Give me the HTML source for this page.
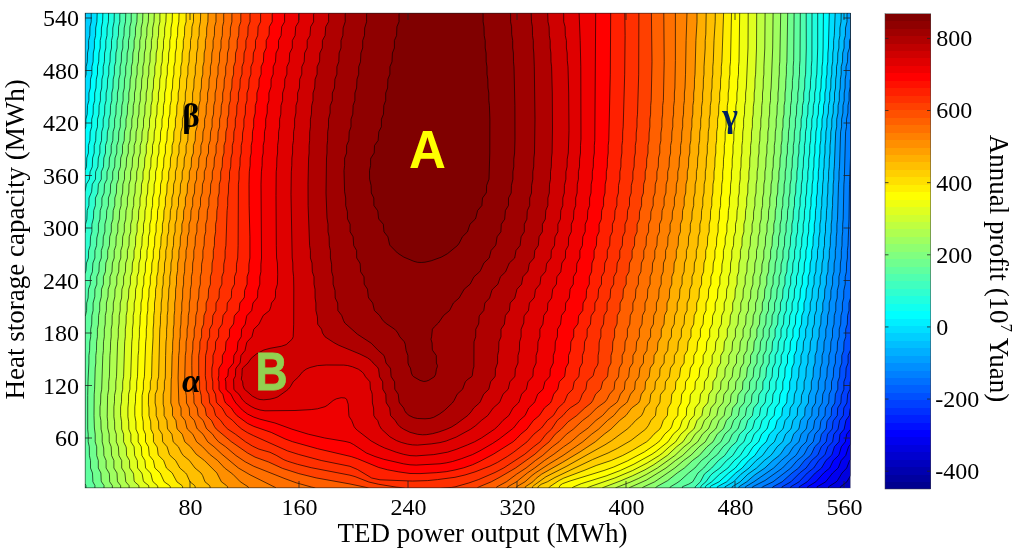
<!DOCTYPE html>
<html><head><meta charset="utf-8"><title>Annual profit contour</title>
<style>
html,body{margin:0;padding:0;background:#fff;}
body{width:1024px;height:555px;overflow:hidden;}
svg{display:block;}
text{font-family:"Liberation Serif","Times New Roman",serif;fill:#000;}
.t{font-size:24px;}
.lab{font-size:27px;}
.gk{font-weight:bold;}
.sans{font-family:"Liberation Sans",Arial,sans-serif;font-weight:bold;font-size:53.5px;}
</style></head><body>
<svg width="1024" height="555" viewBox="0 0 1024 555">
<rect width="1024" height="555" fill="#fff"/>
<defs><clipPath id="pc"><rect x="85.0" y="13.0" width="765.5" height="475.0"/></clipPath>
<clipPath id="ac"><rect x="170" y="360" width="29.3" height="50"/></clipPath></defs>
<g clip-path="url(#pc)">
<rect x="85" y="13" width="765.5" height="475" fill="#0000bf"/>
<g stroke="#000" stroke-width="0.8" stroke-opacity="0.8" stroke-linejoin="round" fill-rule="evenodd">
<path fill="#0000df" d="M86.2,13l764.3 0 0 462.6-3.6 6.2-6.5 5 0 1.2-755.4 0 0-475z"/>
<path fill="#0000ef" d="M86.2,13l764.3 0 0 446.7-.9 .8-2.9 7.5-4.7 5-4.5 7.5-1.3 1.4-7.7 4.9 0 1.2-743.5 0 0-475z"/>
<path fill="#0000ff" d="M86.2,13l764.3 0 0 431.3-2 2.5-2.8 8.7-4.5 5-3 7.5-5.6 5-6.9 8.8-8.6 5 0 1.2-732.1 0 0-475z"/>
<path fill="#0010ff" d="M86.2,13l764.3 0 0 416.3-3.9 5-1.3 7.5-4 5-2.1 7.4-.7 1.3-5.2 5-3.6 7.5-6 5-7.9 8.8-8.2 5 0 1.2-722.6 0 0-475z"/>
<path fill="#0030ff" d="M86.2,13l764.3 0 0 394.9-.5 1.4-.7 6.2-3.4 5-1.8 8.7-4.1 5-1 7.6-4.6 5-2.3 7.4-.8 1.3-5.4 5-4.4 7.5-6.2 5-8.2 8.8-7.9 5 0 1.2-714.2 0 0-475z"/>
<path fill="#0040ff" d="M86.2,13l764.3 0 0 368.4-.4 .4-.1 7.4-2.3 5-.8 8.8-3.1 5-.5 7.5-3.7 5-1.6 8.7-4.2 5.1-1.2 7.5-4.8 5-2.7 7.5-.9 1.2-5.5 5-5 7.5-6.4 5-8.2 8.8-8.4 5 0 1.2-705.7 0 0-475z"/>
<path fill="#0050ff" d="M86.2,13l764.3 0 0 337-2.4 5.5 0 7.5-2 5-.4 8.8-1.8 5 0 7.5-2.6 6.2-.4 7.5-3.2 5-.4 7.5-3.8 5-.5 1.3-.6 6.2-.4 1.2-4.4 5-1.4 7.6-4.9 5-3.1 7.4-.9 1.3-5.7 5-5.5 7.5-6.4 5-8.8 8.8-8.8 5-.3 1.2-.6 0-696.2 0 0-475z"/>
<path fill="#0070ff" d="M86.2,13l764.3 0 0 285.1-1.5 4.9 0 7.5-1.4 5-.3 8.7-1.6 5 0 7.6-1.7 5-.3 8.7-1.9 5 0 7.5-1.9 5-.3 8.8-1.8 5 0 7.4-2.4 5-.6 8.8-3.2 5-.4 7.5-3.8 5-.5 1.3-.6 6.2-.5 1.2-4.4 5.1-1.6 7.5-5.1 5-2.8 6.2-1.6 2.5-5.8 5-5.9 7.5-6.6 5-9.8 8.8-9.3 5-.7 1.2-687.2 0 0-475z"/>
<path fill="#0080ff" d="M86.2,13l764.3 0 0 143.7-1 27.5-.5 35-1 26.3-.6 5 0 7.5-.8 5-.2 8.8-1.2 5 0 7.4-1.4 6.3-.1 7.5-1.3 5 0 7.5-1.4 5-.3 8.7-1.5 5 0 7.6-1.7 5-.3 8.7-1.8 5 0 7.5-1.7 5-.4 8.8-1.8 5 0 7.4-2.3 5-.5 8.8-3.3 5-.4 7.5-3.8 5-.5 1.3-.7 6.2-.5 1.2-4.5 5-1.8 7.6-5.1 5-3.2 6.2-1.7 2.5-6 5-6.4 7.5-17.8 13.8-10.5 5-1 1.2-676.5 0 0-475z"/>
<path fill="#008fff" d="M86.2,13l764.3 0 0 65.8-.4 1.7 0 6.3-1 6.2 0 7.5-1.1 5-.1 7.5-1.4 6.2 0 7.5-.9 5.1-1.3 47.4-.4 5-.7 35-.5 5 0 7.6-.6 5-.1 8.7-.7 5 0 7.5-.9 5-.2 8.8-1.3 5 0 7.4-1.6 6.3-.1 7.5-1.4 5 0 7.5-1.5 5-.3 8.7-1.5 5 0 7.6-1.6 5-.3 8.7-1.7 5 0 7.5-1.7 5-.3 8.8-1.8 4.9 0 7.5-2.3 5-.6 8.8-3.3 5-.3 7.5-3.9 5-1.2 7.5-.6 1.2-4.6 5-2 7.6-5.3 5-3.5 6.2-1.8 2.5-6.1 5-7.1 7.5-17.5 12.5-12.4 6.3-.3 1.2-667.3 0 0-475z"/>
<path fill="#009fff" d="M86.2,13l764.3 0 0 25.1-1 2.4 0 7.5-1.7 5-.3 8.8-1.5 5 0 7.4-.8 5-.1 8.8-.9 5 0 7.5-1.2 5-.1 7.5-1.3 6.2 0 7.6-1 5-1.1 35-.5 5 0 7.4-.5 5-1 35-.6 5 0 7.6-.6 5-.2 8.7-.8 5 0 7.5-1.1 5-.2 8.8-1.4 5 0 7.4-1.7 6.3-.1 7.5-1.6 5 0 7.5-1.5 5-.3 8.7-1.6 5 0 7.6-1.7 5-.3 8.7-1.7 5 0 7.5-1.7 5-.3 8.8-1.8 5 0 7.4-2.5 6.3-.3 7.5-3.3 5-.4 7.5-4 5-1.3 7.5-.6 1.2-4.7 5-2.3 7.6-5.5 5-4.7 7.4-7.4 6.3-7.6 7.5-19.9 13.8-8.4 5 0 1.2-.4 0-660 0 0-475z"/>
<path fill="#00bfff" d="M86.2,13l761.1 0-.3 1.2 0 7.6-1.5 6.2-.1 7.5-1.3 5 0 7.5-1.4 5-.2 8.8-1.3 5 0 7.4-.8 5-.2 8.8-.9 5 0 7.5-1.2 5-.1 7.5-1.3 6.2 0 7.6-1 5-1.4 35-.5 5 0 7.5-.6 4.9-.1 8.8-.5 5 0 7.5-.6 6.3-.1 7.4-.7 5 0 7.6-.8 5-.1 8.7-1 5 0 7.5-1.2 5-.2 8.8-1.5 5 0 7.4-1.6 5-.3 8.8-1.7 5 0 7.5-1.7 5-.3 8.7-1.7 5 0 7.6-1.8 5-.4 8.7-1.8 5 0 7.5-1.7 5-.3 8.8-1.8 5 0 7.4-2.6 6.3-.3 7.5-3.3 5-.4 7.5-4.2 5-1.4 7.5-.6 1.2-4.9 5-2.6 7.6-5.6 5-4.1 6.2-2.1 2.5-6.4 5-7.9 7.5-9.9 6.7-8.3 7.1-7.9 5 0 1.2-653.8 0 0-475z"/>
<path fill="#00cfff" d="M86.2,13l755 0-.2 8.8-1.1 6.2 0 7.5-1 5 0 7.5-1.1 5-.2 8.8-1.1 5 0 7.4-.8 5-.2 8.8-1 5 0 7.5-1.2 5-.1 7.5-1.4 6.2 0 7.6-1 5-.1 7.4-.7 6.3 0 7.5-.7 6.2-.1 7.6-.6 5 0 7.4-.7 5-.1 8.8-.6 5 0 7.5-.7 5-.2 8.7-.8 5 0 7.6-1 6.2 0 7.5-1.1 5 0 7.5-1.3 5-.3 8.8-1.6 5 0 7.4-1.7 5-.3 8.8-1.8 5 0 7.5-1.8 5-.3 8.7-1.9 5 0 7.6-2 5-.4 8.7-2 5 0 7.5-1.8 5-.3 8.8-1.8 5 0 7.4-2.6 6.3-.3 7.5-3.5 5-.5 7.5-4.2 5-1.7 7.5-.6 1.2-5.1 5-2.9 7.6-5.6 5-4.3 6.2-2.1 2.5-6.4 5-7.7 7.5-8.7 6.2-7.7 7.6-8.1 5 0 1.2-647.1 0 0-465 .4-10z"/>
<path fill="#00dfff" d="M91.2,13.8l.2-.8 743.8 0-.9 22.5-.7 5 0 7.5-.8 5-.1 8.8-.9 5 0 7.4-.9 5-.1 8.8-1.1 5 0 7.5-1.2 5-.2 7.5-1.4 6.2 0 7.6-1 5-.1 7.4-.8 6.3 0 7.5-.8 6.2-.1 7.6-.7 5 0 7.4-.7 5-.2 8.8-.7 5 0 7.5-.8 5-.2 8.7-.9 5 0 7.6-1.1 6.2-.1 7.5-1.2 5 0 7.5-1.4 5-.3 8.8-1.7 5 0 7.4-1.7 5-.4 8.8-1.8 5 0 7.5-2.2 6.3-.2 7.4-2.1 5 0 7.6-2.2 5-.4 8.7-2.1 5 0 7.5-2 5-.3 8.8-1.9 5 0 7.4-2.3 5-.7 8.8-3.6 5-.6 7.5-4.5 5-1.8 7.5-.7 1.3-5.1 4.9-3.1 7.6-5.6 5-6.3 8.7-6.3 5-7.1 7.5-8.1 6.2-7.4 7.6-8.6 5 0 1.2-640 0 0-409.7 1.1-4.1 0-7.4 1.2-5 .2-8.8 1.1-5 0-7.5 1.2-5 .2-8.7 1.2-5 0-7.6z"/>
<path fill="#00ffff" d="M97.5,13l731.8 0-.9 35-.5 5-.1 8.8-.8 5 0 7.4-.9 5-.1 8.8-1.1 5 0 7.5-1.3 5-.2 7.5-1.4 6.2 0 7.6-1.1 5-.1 8.7-.9 5 0 7.5-.8 6.2-.1 7.6-.7 5 0 7.4-.9 5-.1 8.8-.9 5 0 7.5-.9 5-.2 8.7-1 5 0 7.6-1.1 5-.2 8.7-1.3 5 0 7.5-1.5 5-.3 8.8-1.7 5 0 7.4-1.9 5-.4 8.8-1.9 5 0 7.5-2.1 5-.4 8.7-2.2 5 0 7.6-2.4 5-.5 8.7-2.3 5 0 7.5-2.2 5-.3 8.8-1.9 5 0 7.4-2.4 5-.5 7.6-.3 1.2-3.9 5-.8 7.5-4.6 5-2 7.5-.7 1.2-5.1 5-3.1 7.5-5.5 5.1-6 8.7-6.1 5-6.5 7.5-6.5 5-9.1 8.8-9.3 5 0 1.2-632.3 0 0-358.3 .8-3 .1-7.5 1.3-5 .3-8.7 1.4-5 0-7.5 1.4-5 .2-8.8 1.4-5 0-7.4 1.2-5 .2-8.8 1.1-5 0-7.5 1.2-5 .1-7.5 1.2-6.2 .3-8.8z"/>
<path fill="#10ffef" d="M103.8,13l719.6 0-.3 35-.4 13.8-.7 5 0 7.4-.8 5-.2 8.8-1.1 5 0 7.5-1.4 5-.2 8.7-1.3 5 0 7.6-1.1 5-.2 8.7-.8 5 0 7.5-.9 5-.1 8.8-.8 5 0 7.4-.9 5-.2 8.8-1 5 0 7.5-1 5-.2 8.7-1.1 5 0 7.6-1.3 6.2-.1 7.5-1.4 5 0 7.5-1.5 5-.3 8.8-1.8 5 0 7.4-1.9 5-.4 8.8-2 5 0 7.5-2.2 5-.4 8.7-2.4 5 0 7.6-2.6 5-.4 8.7-2.5 5 0 7.5-2.4 5-.3 8.8-2 5 0 7.4-2.7 5-.9 8.8-4.1 5-1 7.5-4.6 5-2.1 7.5-.7 1.2-5.1 5-3 7.6-5.5 5-5.6 8.7-6 5-6.2 7.5-6.6 5-9.6 8.8-7.9 4-1 .9 0 1.3-625.2 0 0-317.5 1.5-3.7 .3-8.8 1.6-5 0-7.5 1.5-5 .3-8.7 1.5-5 0-7.6 1.4-5 .2-8.7 1.4-5 0-7.5 1.3-5 .3-8.8 1.2-5 0-7.4 1.2-5 .3-8.8 1.2-5 0-7.5 1.1-5 .1-7.5 1.2-6.2 .3-8.8z"/>
<path fill="#20ffdf" d="M108.8,13l708.9 0 0 35-.9 26.2-.8 5-.2 8.8-1.1 5 0 7.5-1.3 5-.3 8.7-1.3 5 0 7.6-1 5-.2 8.7-.9 5 0 7.5-1 6.2 0 7.6-.9 5 0 7.4-1 5-.2 8.8-1 5 0 7.5-1.1 5-.2 8.7-1.1 5 0 7.6-1.4 6.2-.1 7.5-1.5 5 0 7.5-1.6 5-.3 8.8-1.8 5 0 7.4-2 5-.3 8.8-2.1 5 0 7.5-2.3 5-.4 8.7-2.5 5 0 7.6-2.6 5-.5 8.7-2.6 5 0 7.5-2.4 5-.4 8.8-2.4 5 0 7.4-3 5-.6 7.6-.4 1.2-4.2 5-1.1 7.5-4.7 5-2.1 7.5-.7 1.2-5.1 5-2.9 7.6-5.4 5-5.6 8.7-5.9 5-6.4 7.5-8.3 6.2-7.9 7.6-5.4 3.7-.9 1.3 0 1.2-620.4 0 0-296 1.4-7.8 3-5 .7-7.4 2.2-5 .3-8.8 1.6-5 0-7.5 1.5-5 .3-8.7 1.5-5 0-7.6 1.4-5 .2-8.7 1.3-5 0-7.5 1.3-5 .2-8.8 1.3-5 0-7.4 1.2-5 .2-8.8 1.2-5 0-7.5 1.2-5 .1-7.5 1.3-6.2 .2-8.8z"/>
<path fill="#30ffcf" d="M115,13l697 0-.1 47.5-.6 6.3 0 7.4-.8 6.3-.1 7.5-1.1 5 0 7.5-1.3 5-.2 8.7-1.2 5 0 7.6-1.1 5-.2 8.7-.9 5 0 7.5-.9 5-.2 8.8-.9 5 0 7.4-1 5-.2 8.8-1.1 5 0 7.5-1.1 5-.2 8.7-1.2 5 0 7.6-1.5 6.2-.1 7.5-1.4 5 0 7.5-1.7 5-.3 8.8-1.9 5 0 7.4-1.9 5-.4 8.8-2.1 5 0 7.5-2.3 5-.5 8.7-2.5 5 0 7.6-2.6 5-.5 8.7-2.7 5 0 7.5-2.6 5-.5 8.8-2.6 5-.1 7.4-3.3 5-.8 7.6-.5 1.2-4.2 5-1.1 7.5-4.7 5-2.1 7.5-.7 1.2-5.2 5-2.9 7.6-5.5 5-5.7 8.7-6.1 5-6.7 7.5-6.9 5-2.6 2.5-4.5 6.3-4.4 3.7-.7 1.3 0 1.2-615.8 0 0-254.6 .4-1.6 .1-7.6 1.4-5 .3-8.7 1.7-5 .1-7.5 2.6-6.2 .7-7.6 3.2-5 .1-7.4 2.3-5 .4-8.8 1.6-5 0-7.5 1.6-5 .2-8.7 1.5-5 0-7.6 1.4-5 .2-8.7 1.3-5 0-7.5 1.2-5 .3-8.8 1.2-5 0-7.4 1.2-5 .3-8.8 1.2-5 0-7.5 1.2-5 .1-7.5 1.3-6.2 .2-8.8z"/>
<path fill="#50ffaf" d="M120,13.2l686.2-.2 .1 35-.7 26.2-.8 5-.1 8.8-1 5 0 7.5-1.2 5-.2 8.7-1.2 5 0 7.6-1 5-.2 8.7-1 5 0 7.5-.9 5-.2 8.8-.9 5 0 7.4-1 5-.2 8.8-1.2 5 0 7.5-1.1 5-.3 8.7-1.2 5 0 7.6-1.3 5-.3 8.7-1.5 5 0 7.5-1.6 5-.4 8.8-1.8 5 0 7.4-2 5-.4 8.8-2.2 5 0 7.5-2.3 5-.4 8.7-2.6 5 0 7.5-2.6 5.1-.5 8.7-2.8 5 0 7.5-2.7 5-.6 8.8-3 5-.1 7.4-3.6 5-.4 1.3-.5 6.3-.4 1.2-4.3 5-1.2 7.5-4.7 5-2.2 7.5-.7 1.2-5.2 5-3.1 7.6-5.6 5-6.2 8.7-6.2 5-6.8 7.5-7.4 6.2-3.9 7.6-5.2 5 0 1.2-610.2 0 0-214.1 1-3.4 .5-7.5 1.9-5 .2-7.5 1.6-5 .3-8.7 1.4-5 0-7.6 1.6-6.2 .2-7.5 1.7-5 0-7.5 2.4-5 .6-8.8 2.9-5 0-7.4 2.2-5 .3-8.8 1.7-5 0-7.5 1.6-5 .3-8.7 1.5-5 0-7.6 1.4-5 .2-8.7 1.3-5 0-7.5 1.2-5 .2-8.8 1.2-5 0-7.4 1.3-5 .2-8.8 1.2-5 0-7.5 1.3-5 .2-8.7 1.2-5 0-7.6z"/>
<path fill="#60ff9f" d="M126.2,13l674.1 0-.3 47.5-.5 6.3 0 7.4-.7 6.3-.1 7.5-.9 5 0 7.5-1.1 5-.2 8.7-1.1 5 0 7.6-1 5-.2 8.7-.9 5 0 7.5-1 5-.1 8.8-1 5 0 7.4-1.1 5-.2 8.8-1.1 5 0 7.5-1.2 5-.2 8.7-1.3 5 0 7.6-1.4 5-.2 8.7-1.5 5 0 7.5-1.9 6.2-.1 7.6-1.9 5 0 7.4-2 5-.4 8.8-2.1 5 0 7.5-2.4 5-.4 8.7-2.6 5 0 7.6-2.7 5-.5 8.7-2.8 5 0 7.5-2.9 5-.7 8.8-3.2 5-.3 7.4-3.8 5-.4 1.3-.5 6.3-.5 1.2-4.3 5-1.2 7.5-4.7 5-2.4 7.5-.7 1.2-5.3 5-3.5 7.6-5.7 5-5.5 7.4-7.5 6.3-6.4 7.5-5.7 5-5.3 8.8-3.9 2.3-6.3 2.6-.1 1.3-596.4 0-.1-2.5-.9-2.1 .2-166.6 1.4-6.3 .1-7.5 1.4-5 .4-8.8 1.8-5 .1-7.4 2-5 .5-8.8 2-5 0-7.5 1.7-5 .2-7.5 1.6-6.2 0-7.6 1.5-5 .3-8.7 1.7-5 0-7.5 2.2-5 .4-8.8 2.5-5 0-7.4 2.1-5 .3-8.8 1.8-5 0-7.5 1.6-5 .3-8.7 1.5-5 0-7.6 1.3-5 .3-8.7 1.2-5 0-7.5 1.2-5 .2-8.8 1.3-5 0-7.4 1.2-5 .2-8.8 1.3-5 0-7.5 1.2-5 .2-7.5 1.3-6.2 .3-8.8z"/>
<path fill="#70ff8f" d="M131.2,14l.3-1 662.6 0-.4 47.5-.5 6.3 0 7.4-.8 6.3 0 7.5-.9 5 0 7.5-.9 5-.2 8.7-1 5 0 7.6-.9 5-.2 8.7-.9 5 0 7.5-1 5-.2 8.8-1 5 0 7.4-1 5-.2 8.8-1.2 5 0 7.5-1.2 5-.2 8.7-1.3 5 0 7.6-1.4 5-.2 8.7-1.6 5 0 7.5-1.6 5-.4 8.8-1.8 5 0 7.4-2 5-.4 8.8-2.2 5 0 7.5-2.3 5-.4 8.7-2.6 5 0 7.6-2.7 5-.5 8.5-2.9 5.2-.1 7.5-3.1 5-.7 8.8-3.5 5-.3 7.4-3.9 5-.5 1.3-.6 6.3-.4 1.2-4.4 5-1.2 7.5-4.8 5-2.6 7.5-.8 1.2-5.4 5-3.9 7.6-5.8 5-7.2 8.7-6.4 5-6.6 7.5-6.3 5-8.2 7.5-3.5 2.5-6.5 3.8-.5 1.2-575 0 0-2.5-2-3.7-.4-8.8-2-5 0-7.5-1.1-5-.1-8.7-1.1-5 0-7.6-.5-5 0-33.7 .3-13.7 .9-18.8 0-7.5 .7-5 .2-8.7 .9-5 0-7.6 1-5 .2-8.7 1.2-5 0-7.5 1.7-6.2 .1-7.6 1.9-5 0-7.4 2.1-5 .4-8.8 2-5 0-7.5 1.7-5 .3-8.7 1.6-5 0-7.6 1.6-6.2 .2-7.5 1.7-5 0-7.5 1.9-5 .3-8.8 2.1-5 0-7.4 2-5 .3-8.8 1.8-5 0-7.5 1.7-5 .3-8.7 1.5-5 0-7.6 1.3-5 .3-8.7 1.2-5 0-7.5 1.2-5 .2-8.8 1.2-5 0-7.4 1.3-5.1 .2-8.7 1.3-5 0-7.5 1.2-5 .2-8.7 1.3-5 0-7.6z"/>
<path fill="#8fff70" d="M137.5,13l650.2 0-.8 48.8-.5 5 0 7.4-.6 6.3-.1 7.5-.7 5 0 7.5-.9 5-.1 8.7-1 5 0 7.6-.9 5-.1 8.7-.9 5 0 7.5-1 5-.2 8.8-1 5 0 7.4-1 5-.2 8.8-1.2 5 0 7.5-1.2 5-.2 8.8-1.3 4.9 0 7.6-1.4 5-.3 8.7-1.5 5 0 7.5-1.7 5-.3 8.8-1.8 5 0 7.4-2 5-.4 8.8-2.1 5 0 7.5-2.4 5-.4 8.7-2.6 5 0 7.6-2.7 5-.6 8.7-3 5-.1 7.5-3.1 5-.9 8.8-3.6 5-.4 7.4-4 5-.5 1.3-.6 6.3-.4 1.2-4.4 5-1.3 7.5-4.9 5-2.8 7.5-.8 1.2-5.6 5-4.2 7.6-6 5-7.7 8.7-6.8 5-8.1 7.5-7.2 5-9.7 7.7-11.1 6.1-1 1.2-551.4 0 0-2.5-2.5-3.7-.3-1.3-.3-7.5-2.6-5 0-7.5-1.6-5 0-8.7-1.5-5 0-7.6-.8-6.2-.4-12.5 .2-21.3 .4-5 .6-21.2 .6-5 0-7.5 .7-5 .1-8.7 .8-5 0-7.6 1-5 .2-8.7 1.1-5 0-7.5 1.6-6.2 .2-7.6 1.9-5 0-7.4 2-5 .4-8.8 1.9-5 0-7.5 1.7-5 .3-8.7 1.6-5 0-7.6 1.6-5 .3-8.7 1.6-5 0-7.5 1.6-5 .3-8.8 1.8-4.9 0-7.5 1.9-5 .3-8.8 1.8-5 0-7.5 1.7-5 .3-8.7 1.5-5 0-7.6 1.3-5 .3-8.7 1.2-5 0-7.5 1.1-5 .3-8.8 1.2-5 0-7.4 1.2-5 .3-8.8 1.2-5 0-7.5 1.3-5 .1-7.5 1.4-6.2 .3-8.8z"/>
<path fill="#9fff60" d="M143.8,13l636.9 0-.9 48.8-.5 5 0 7.4-.5 5-.2 8.8-.6 5 0 7.5-.8 5-.2 8.7-.8 5 0 7.6-.9 5-.2 8.7-.8 5 0 7.5-1 5-.1 8.8-1 5 0 7.4-1.1 5-.2 8.8-1.1 5 0 7.5-1.2 5-.2 8.7-1.4 5 0 7.6-1.4 5-.3 8.7-1.5 5 0 7.5-1.8 6.2-.2 7.6-1.8 5 0 7.4-2.1 6.3-.2 7.5-2.1 5 0 7.5-2.3 5-.5 8.7-2.5 5-.1 7.6-2.7 5-.6 8.7-3.1 5-.1 7.5-3.2 5-.9 8.8-3.7 5-.5 7.4-4 5-.4 1.3-.6 6.3-.5 1.2-4.4 5-1.4 7.5-5 5-2.9 7.5-.9 1.2-5.6 5-4.4 7.6-6.2 5-7.9 8.2-7.5 5.5-8.9 7.5-20.1 13.8-10.9 5-1.9 1.2-529.5 0-.1-2.5-2.6-3.7-.3-7.6-.3-1.2-3-5 0-7.5-2.2-5-.2-7.5-1.5-6.2 0-7.6-1.1-5-.2-8.7-.9-5 0-8.7 .6-3.8 .2-8.8 .9-5 1.1-33.7 .6-5 .1-8.7 .8-5 0-7.6 .9-5 .1-8.7 1.1-5 0-7.5 1.6-6.2 .2-7.6 1.8-5 0-7.4 2-5 .4-8.8 1.8-5 0-7.5 1.7-5 .3-8.7 1.6-5 0-7.6 1.5-5 .3-8.7 1.5-5 0-7.5 1.5-5 .3-8.8 1.6-5 0-7.4 1.7-5 .4-8.8 1.7-5 0-7.5 1.7-5 .3-8.7 1.5-5 0-7.6 1.3-5 .2-8.7 1.2-5 0-7.5 1.2-5 .2-8.8 1.2-5 0-7.4 1.3-5 .2-8.8 1.2-5 0-7.5 1.3-5 .1-7.5 1.4-6.2 .3-8.8z"/>
<path fill="#afff50" d="M148.8,13l624.3 0-.4 35-1.6 40-.6 5 0 7.5-.8 5-.1 8.7-.8 5 0 7.6-.9 5-.1 8.7-.9 5 0 7.5-.9 5-.2 8.8-.9 5 0 7.4-1 5-.2 8.8-1.1 5 0 7.5-1.2 5-.2 8.7-1.4 5 0 7.6-1.5 5-.3 8.7-1.5 5 0 7.5-1.6 5-.3 8.8-1.7 5 0 7.4-2.1 6.3-.2 7.5-2.2 5 0 7.5-2.3 5-.4 8.7-2.6 5 0 7.6-2.8 5-.6 8.7-3.1 5-.1 7.5-3.3 5-1 8.8-3.6 5-.5 7.4-3.9 5-.4 1.3-.6 6.3-.5 1.2-4.4 5-1.5 7.5-5 5-3 7.5-.9 1.2-5.5 5-4.7 7.6-6.2 5-8.9 8.7-7.1 5-9.5 7.5-19.8 12.2-17.6 7.8-507.9 0-.1-2.5-2.9-3.7-.3-1.3-.4-7.5-3.1-5 0-7.5-2.3-5-.4-8.7-2-5 0-7.6-1.5-6.2 0-6.2-.5-5 .4-21.3 1.1-6.3 0-7.4 .7-5 .5-21.3 .5-5 .2-8.7 .6-5 0-7.6 .9-5 .1-8.7 1.1-5 0-7.5 1.5-6.2 .2-7.6 1.8-5 0-7.4 1.9-5 .3-8.8 1.8-5 0-7.5 1.6-5 .3-8.7 1.6-5 0-7.6 1.4-5 .3-8.7 1.4-5 0-7.5 1.4-5 .2-8.8 1.6-5 0-7.4 1.6-5 .3-8.8 1.7-5 0-7.5 1.7-5 .2-8.7 1.5-5 0-7.6 1.3-5 .2-8.7 1.2-5 0-7.5 1.2-5 .2-8.8 1.2-5 0-7.4 1.2-5 .3-8.8 1.2-5 0-7.5 1.2-5 .1-7.5 1.4-6.2 .3-8.8z"/>
<path fill="#bfff40" d="M155,13l610.1 0-.3 35-.9 18.8 0 7.4-.6 5-.1 8.8-.7 5 0 7.5-.7 5-.2 8.7-.8 5 0 7.6-.8 5-.2 8.7-.8 5 0 7.5-.8 5-.2 8.8-.9 5 0 7.4-.9 5-.2 8.8-1.1 5 0 7.5-1.3 6.3-.1 7.4-1.4 5 0 7.6-1.6 5-.3 8.7-1.5 5 0 7.5-1.6 5-.2 8.8-1.7 5 0 7.4-1.9 5-.3 8.8-2.2 5 0 7.5-2.3 5-.5 8.7-2.6 5 0 7.6-2.8 5-.6 8.7-3.1 5-.1 7.5-3.3 5-.4 1.2-.2 6.3-.3 1.3-3.6 5-.4 7.4-3.9 5-.4 1.3-.5 6.3-.5 1.2-4.4 5-1.5 7.5-5 5-2.9 7.5-.8 1.2-5.6 5-4.8 7.6-6.3 5-9.1 8.7-17.5 12.5-11.2 6.5-7.4 3.8-7.8 3.5-16 6.2-485.8 0-.2-2.5-3.2-3.7-.9-8.8-3.2-5 0-7.5-2.8-5-.5-8.7-2.1-5 0-7.6-1.6-5-.1-7.4-.7-5 0-10 .6-5 0-6.3 1.3-6.3 0-7.4 .7-5 1.1-35 .7-5 0-7.6 .8-6.2 .1-7.5 1-5 0-7.5 1.4-5 .3-8.8 1.7-5 0-7.4 1.8-5 .3-8.8 1.7-5 0-7.5 1.6-5 .2-8.7 1.5-5 0-7.6 1.4-5 .2-8.7 1.4-5 0-7.5 1.3-5 .3-8.8 1.4-5 0-7.4 1.6-5 .3-8.8 1.6-5 0-7.5 1.6-5 .3-8.7 1.4-5 0-7.6 1.3-5 .2-8.7 1.2-5 0-7.5 1.2-5 .2-8.8 1.2-5 0-7.4 1.2-5 .2-8.8 1.2-5 0-7.5 1.2-5 .1-7.5 1.3-6.2 .3-8.8z"/>
<path fill="#dfff20" d="M160,13.8l.2-.8 596.5 0-.2 35-.9 26.2-.6 5-.1 8.8-.7 5 0 7.5-.9 6.3-.1 7.4-.8 5 0 7.6-.9 5-.1 8.7-.8 5 0 7.5-.8 5-.1 8.8-.8 5 0 7.4-1 5-.1 8.8-1.1 5 0 7.5-1.1 5-.3 8.7-1.4 5 0 7.6-1.8 6.2-.1 7.5-1.6 5 0 7.5-1.4 5-.3 8.8-1.6 5 0 7.4-1.8 5-.4 8.8-2.2 5 0 7.5-2.3 5-.5 8.7-2.6 5 0 7.6-2.9 5-.6 8.7-3 5-.2 7.5-3.2 5-.9 8.8-3.5 5-.3 7.4-3.7 5-1 7.6-.4 1.2-4.4 5-1.3 7.5-4.8 5-2.7 7.5-.8 1.2-5.6 5-5 7.6-6.3 4.9-9.2 8.6-13.7 9.4-8.8 5.1-12.5 6-12.5 5.3-18.2 6.9-462.7 0-.3-2.5-4.2-3.7-.5-1.3-.5-6.3-.4-1.2-3.5-5-.2-7.5-2.9-5-.3-7.5-.3-1.2-2.4-5 0-7.6-1.9-5-.1-7.4-1-6.3 0-8.7 .9-5 .1-7.6 1.1-5 0-7.4 .9-5 1.1-35 .6-5 0-7.6 .8-6.2 .1-7.5 1-5 0-7.5 1.3-5 .3-8.8 1.6-5 0-7.4 1.7-5 .3-8.8 1.6-5 0-7.5 1.5-5 .2-8.7 1.4-5 0-7.6 1.4-5 .2-8.7 1.3-5 0-7.5 1.3-5 .2-8.8 1.5-5 0-7.4 1.5-5 .3-8.8 1.5-5 0-7.5 1.5-5 .3-8.7 1.4-5.1 0-7.5 1.3-5 .2-8.7 1.2-5 0-7.5 1.2-5 .2-8.8 1.2-5 0-7.4 1.2-5 .2-8.8 1.2-5 0-7.5 1.1-5 .2-8.7 1.2-5 0-7.6z"/>
<path fill="#efff10" d="M166.2,13l582 0-.2 35-1.7 40-.7 5 0 7.5-.9 5-.2 8.7-.9 5 0 7.6-.8 5-.2 8.7-.7 5 0 7.5-.8 5-.1 8.8-.8 5 0 7.4-.9 6.3-.1 7.5-1 5 0 7.5-1.1 5-.3 8.7-1.3 5 0 7.6-1.7 5-.3 8.7-1.7 5 0 7.5-1.2 5-.2 8.8-1.7 5 0 7.4-2 5-.3 8.8-2.2 5 0 7.5-2.4 5-.5 8.7-2.6 5 0 7.6-2.9 5-.6 8.7-3 5-.1 7.5-3.2 5-.9 8.8-3.5 5-.3 7.4-3.7 5-.8 7.6-.5 1.2-4.2 5-.8 7.5-4.5 5-2.5 7.5-.8 1.2-5.6 5-5.1 7.6-6.4 5-6.7 6.2-3.3 2.5-12.2 7.5-14.4 7.5-17.9 7.5-25.3 8.8-2.6 1.2-437.9 0-.4-2.5-4.7-3.7-.6-1.3-1.1-6.3-.5-1.2-4.1-5-.3-7.5-2.6-5-.6-8.7-3.2-5 0-7.6-2.1-5-.1-7.4-.8-5 0-8.8 .6-6.2 .1-7.6 1.3-5 0-7.4 .8-5 1.1-35 .6-5 0-7.6 .8-6.2 0-7.5 1-5 0-7.5 1.2-5 .2-8.8 1.5-5 0-7.4 1.6-5 .3-8.8 1.5-5 0-7.5 1.4-5 .3-8.8 1.3-4.9 0-7.6 1.3-5 .2-8.7 1.3-5 0-7.5 1.3-5 .3-8.8 1.4-5 0-7.4 1.5-5 .2-8.8 1.5-5 0-7.5 1.5-5 .3-8.7 1.3-5 0-7.6 1.3-5 .2-8.7 1.3-5 0-7.5 1.2-5 .2-8.8 1.2-5 0-7.4 1.2-5 .2-8.8 1.1-5 0-7.5 1.1-5 .1-7.5 1.2-6.2 .3-8.8z"/>
<path fill="#ffff00" d="M172.5,13l567.2 0-.7 48.8-.5 5 0 7.4-.8 6.3 0 7.5-.8 5 0 7.5-1 5-.2 8.7-.9 5 0 7.6-.9 5-.1 8.7-.8 5 0 7.5-.8 6.2 0 7.6-.8 5 0 7.4-.8 5-.2 8.8-1 5 0 7.5-1 5-.3 8.7-1.2 5 0 7.6-1.7 6.2 0 6.2-1.8 6.3 0 7.5-1.4 6.2-.2 7.6-1.9 5 0 7.4-2 5-.4 8.8-2.3 5 0 7.5-2.4 5-.2 1.3-.3 7.4-2.6 5 0 7.6-2.9 5-.6 8.7-3 5-.1 7.5-3.2 5-.9 8.8-3.7 5-.4 7.4-4.2 5-.4 1.3-.4 6.3-.3 1.2-2.9 5-.4 7.5-4.1 5-2 6.3-1.4 2.4-5.6 5-5.2 7.6-11.8 9.5-4.2 2.9-18.1 10-13.6 6.3-14.1 5.4-25 7.8-7.4 3.1-2.1 1.2-413.9 0 0-1.2-.5-1.3-4.2-3.7-.6-1.3-1.5-6.3-.6-1.2-4.8-5-.7-7.5-3-5-.6-8.7-3.1-5 0-7.6-2.2-5-.1-7.4-1.1-6.3 0-8.7 .7-5 .1-7.6 1.1-5 0-7.4 .8-5 .6-21.3 .6-5 .1-8.7 .6-5 0-7.6 .6-5 .2-8.7 .8-5 0-7.5 1.2-5 .2-8.8 1.4-5 0-7.4 1.5-5 .2-8.8 1.5-5 0-7.5 1.3-5 .2-8.7 1.3-5 0-7.6 1.3-5 .3-8.7 1.2-5 0-7.5 1.4-5 .2-8.8 1.4-5 0-7.4 1.5-5 .3-8.8 1.5-5 0-7.5 1.5-5 .2-8.7 1.4-5 0-7.6 1.3-4.9 .2-8.8 1.2-5 0-7.5 1.2-5 .3-8.8 1.1-4.9 0-7.5 1.2-5 .2-8.8 1.1-5 0-7.5 1.1-5 .1-7.5 1.2-6.2 .2-8.8z"/>
<path fill="#ffef00" d="M180,13l551.5 0-1 48.8-.6 5 0 7.4-.8 6.3-.1 7.5-.8 5 0 7.5-.9 5-.2 8.7-1 5 0 7.6-.9 5-.1 8.7-.8 5 0 7.5-.8 6.2-.1 7.6-.7 4.9 0 7.5-.9 5-.2 8.8-1 5 0 7.5-1.1 5-.2 8.7-1.2 5 0 7.6-1.4 6.2-.2 7.5-1.6 5 0 7.5-1.6 5-.4 8.8-2 5 0 7.4-2.2 5-.4 8.8-2.3 5 0 7.5-2.4 5-.5 8.7-2.7 5 0 7.6-2.8 5-.7 8.7-3 5-.2 7.5-3.3 5-1 8.8-3.8 5-.4 7.4-3.5 5-.7 8.8-2.9 5-.3 7.5-4.2 5-2 6.3-1.4 2.4-5.5 5-4.7 6.5-4.4 3.5-11 7.6-17.1 9.1-13.7 6.1-9.8 3.5-34 10.5-7.5 2.7-2.5 1.8-1.2 2.5-388.5 0 0-1.2-.8-1.3-5.3-3.7-4-8.8-5.3-5-1.5-7.5-4.1-5-.8-8.7-3-5 0-7.6-2.2-5-.1-7.4-1.1-6.3 0-20 1.3-6.3 0-7.4 1-5 1.3-35 .6-5 0-7.6 .6-5 .1-8.7 .8-5 0-7.5 1.1-6.2 .1-7.6 1.3-5 0-7.4 1.4-5 .2-8.8 1.4-5 0-7.5 1.3-5 .2-8.7 1.3-5 0-7.6 1.3-5 .2-8.7 1.4-5 0-7.5 1.4-5 .2-8.8 1.5-5 0-7.4 1.5-5 .3-8.8 1.5-5 0-7.5 1.5-5 .3-8.7 1.3-5 0-7.6 1.3-5 .3-8.7 1.2-5 0-7.5 1.2-5 .3-8.8 1.1-5 0-7.4 1.2-5 .2-8.8 1.1-5 0-7.5 1.2-5 .1-7.5 1.1-6.2 .3-8.8z"/>
<path fill="#ffcf00" d="M186.2,13.9l.3-.9 537.1 0-1.7 48.8-.6 5 0 7.4-.7 5-.1 8.8-.8 5 0 7.5-.9 5-.2 8.7-1 5 0 7.6-.9 5-.1 8.7-.8 5 0 7.5-.8 5-.2 8.8-.8 5 0 7.5-1 4.9-.2 8.8-1 5 0 7.5-1.2 5-.2 8.7-1.2 5 0 7.6-1.5 5-.3 8.7-1.7 5 0 7.5-1.7 5-.4 8.8-2 5 0 7.4-2.2 5-.4 8.8-2.3 5 0 7.5-2.5 5-.5 8.7-2.7 5 0 7.6-2.9 5-.7 8.7-3.1 5-.2 7.5-3.5 5-1.1 8.8-3.7 5-.4 7.4-3.6 5-.8 8.8-3.1 5-.5 7.5-4.1 5-2.2 6.3-1.4 2.4-5.7 5-4.4 5-3 2.6-4 2.4-10.5 6.3-9.4 5-11.5 5-15 5-12.2 5-20.2 7.6-4.7 2.4-9.5 6.3-.8 1.2-366.2 0 0-1.2-.7-1.3-5-3.7-4.7-8.8-5.8-5-2.8-7.5-4.9-5-.6-1.3-.7-6.2-.4-1.2-3.5-5-.1-7.5-2.5-5.1-.2-7.4-1.7-6.3 0-7.5-.6-3.8 .2-10 1.7-5 0-7.4 .9-2.6 .4-2.4 .5-21.3 1-18.7 0-7.6 .6-6.2 .1-7.5 .7-5 0-7.5 1-6.2 .1-7.6 1.2-5 0-7.4 1.2-5 .3-8.8 1.3-5 0-7.5 1.2-5 .3-8.7 1.3-5 0-7.6 1.3-5 .3-8.7 1.4-5 0-7.5 1.4-5 .3-8.8 1.6-5 0-7.4 1.6-5 .2-8.8 1.6-5 0-7.5 1.6-5 .2-8.7 1.5-5 0-7.6 1.3-5 .2-8.7 1.3-5 0-7.5 1.2-5 .2-8.8 1.2-5 0-7.4 1.2-5 .2-8.8 1.1-5 0-7.5 1.2-5 .2-8.7 1.4-5 0-7.6z"/>
<path fill="#ffbf00" d="M193.8,13.6l.1-.6 521.4 0-.1 8.8-1.2 18.7-.7 21.3-.5 5 0 7.4-.7 5-.1 8.8-.8 5 0 7.5-.9 5-.2 8.7-.9 5 0 7.6-.9 5-.2 8.7-.8 5 0 7.5-.9 5-.2 8.8-.9 5 0 7.5-1.1 4.9-.2 8.8-1.2 5 0 7.5-1.2 5-.3 8.8-1.4 4.9 0 7.6-1.6 5-.3 8.7-1.7 5 0 7.5-1.9 5-.3 8.8-2.1 5 0 7.4-2.2 5-.4 8.8-2.3 5 0 7.5-2.5 5-.5 8.7-2.7 5-.1 7.6-2.9 5-.7 8.7-3.3 5-.2 7.5-3.7 5-1.1 8.8-3.9 5-.5 7.4-4.2 5-.4 1.3-.4 6.3-.4 1.2-3.3 5-.8 7.5-4.6 5-2.5 5-2.8 3.7-14.6 11.3-13.5 7.8-9.4 4.7-15.6 6.6-37.5 17.9-7.6 4.3-6.2 2.5-3.2 2.5-.1 1.2-342.7 0 0-1.2-.6-1.3-4.6-3.7-3.4-7.6-1-1.2-5.8-5-4.2-7.5-5.5-5-.8-1.3-2.2-7.4-4.4-5-.5-7.6-3.3-5-.2-1.2-.1-6.2-2.4-6.3 0-7.5-1.1-5 .2-8.8 2-5 0-7.5 1.3-4.9 1.2-47.6 .6-5 .1-8.7 .7-5 0-7.5 .9-6.2 .1-7.6 1-5 0-7.4 1.2-5 .2-8.8 1.2-5 0-7.5 1.3-5 .2-8.8 1.4-4.9 0-7.6 1.4-5 .3-8.7 1.5-5 0-7.5 1.5-5 .3-8.8 1.7-5 0-7.4 1.6-5 .3-8.8 1.7-5 0-7.5 1.6-5 .3-8.7 1.5-5 0-7.6 1.4-5 .2-8.7 1.3-5 0-7.5 1.2-5 .2-8.8 1.2-5 0-7.4 1.2-5 .2-8.8 1.2-5 0-7.5 1.2-5 .3-8.7 1.5-5.1 0-7.5z"/>
<path fill="#ffaf00" d="M201.2,13l505 0-.4 21.2-.6 6.3 0 7.5-1.2 18.8 0 7.4-.6 5-.1 8.8-.7 5 0 7.5-1 6.3 0 7.4-.9 5 0 7.6-.9 5-.2 8.7-.9 5 0 7.5-1 5-.2 8.8-1.1 4.9 0 7.5-1.2 5-.2 8.8-1.3 5 0 7.5-1.6 6.3-.2 7.4-1.6 5 0 7.6-1.7 5-.3 8.7-1.9 5 0 7.5-1.9 5-.4 8.8-2 5 0 7.4-2.2 5-.4 8.8-2.3 5 0 7.5-2.5 5-.5 8.7-2.7 5-.1 7.6-3 5-.7 8.7-3.4 5-.2 7.5-3.7 5-.4 1.2-.3 6.3-.4 1.3-3.9 5-.6 7.4-4 5-1 7.6-.5 1.2-4.5 5-1.3 3.8-1.9 3.7-6 5-4.5 5-4 3.7-15.3 11.3-6.8 4.3-38.8 21.7-20.3 10.3-12.1 8.7-1.3 1.3 0 1.2-322.4 0 0-1.2-.6-1.3-4.5-3.7-2.4-6.3-1.6-2.5-6-5-5.6-7.5-6.1-5-1.8-2.5-3.1-6.2-5.2-5-1.3-7.6-4.1-5-.4-1.2-.5-7.5-2.8-5 0-7.5-.9-3.8 0-10 1.2-5 0-7.4 .9-3.8 .3-22.5 .4-13.7 .6-5 0-7.6 .6-6.2 0-7.5 .7-5 0-7.5 .7-5 .2-8.8 1-5 0-7.4 1.1-6.3 .1-7.5 1.2-5 0-7.5 1.3-5 .2-8.7 1.4-5 0-7.6 1.5-5 .3-8.7 1.6-5 0-7.5 1.7-5 .3-8.8 1.7-5 0-7.4 1.8-5 .3-8.8 1.8-5 0-7.5 1.7-5 .3-8.7 1.6-5 0-7.6 1.4-5 .2-8.7 1.3-5 0-7.5 1.2-5 .3-8.8 1.2-5 0-7.4 1.1-5 .3-8.8 1.1-5 0-7.5 1.3-5 .1-7.5 1.2-6.2 .3-8.8z"/>
<path fill="#ff8f00" d="M208.8,13l488.2 0 0 8.8-1.1 18.7-.9 33.7-.5 5-.1 8.8-.7 5 0 7.5-.8 5-.1 8.7-.9 5 0 7.6-.9 5-.2 8.7-1 5 0 7.5-1.1 5-.2 8.8-1.2 5 0 7.4-1.3 5-.3 8.8-1.5 5 0 7.5-1.6 5-.3 8.7-1.9 5 0 7.6-1.9 5-.3 8.7-1.9 5 0 7.5-2.1 5-.4 8.8-2 5 0 7.4-2.1 5-.4 8.8-2.3 5 0 7.5-2.5 5-.5 8.7-2.7 5.1-.1 7.5-3 5-.3 1.2-.5 7.5-3.3 5-.3 7.5-3.6 5-1 8.8-3.7 5-.5 7.4-3.7 5-1.4 6.3-1.4 2.5-6.8 5-5.7 7.5-6.3 5-8.8 8.7-6.7 5-8.9 7.6-15.2 10-17.6 10.6-20.9 11.8-5.4 4.1-3.3 3.5-7.6 5 0 1.2-297.7 0 0-1.2-1.2-1.3-5-3.7-4.5-8.8-12.5-12.5-8.2-6.3-5.7-7.4-5.7-5-2.6-7.6-4.8-5-.5-1.2-1-7.5-3.4-5 0-7.5-1.7-5 .4-23.8 .4-2.4 .5-21.3 .5-5 .1-8.7 .6-5 0-7.6 .7-5 .1-8.7 .6-5 0-7.5 .8-5 .1-8.8 .9-5 0-7.4 1.1-6.3 .1-7.5 1.2-5 0-7.5 1.3-5 .2-8.7 1.5-5 0-7.6 1.6-5 .2-8.7 1.7-5 0-7.5 1.8-5 .3-8.8 1.8-5 0-7.4 1.9-5 .3-8.8 1.9-5 0-7.5 1.8-5 .3-8.7 1.6-5 0-7.6 1.4-5 .3-8.7 1.3-5 0-7.5 1.2-5 .2-8.8 1.3-5 0-7.4 1.2-5 .2-8.8 1.2-5 0-7.5 1.2-5 .1-7.5 1.2-6.2 .2-8.8z"/>
<path fill="#ff8000" d="M216.2,13.3l.1-.3 470.7 0-.9 27.5-.6 33.7-.5 13.8-.6 5 0 7.5-.7 5-.2 8.7-.8 5 0 7.6-.9 5-.2 8.7-1 5 0 7.5-1.2 5-.3 8.8-1.3 5 0 7.4-1.4 5-.3 8.8-1.7 5 0 7.5-2 6.3-.2 7.4-2.1 5 0 7.5-2.1 5.1-.3 8.7-2.1 5 0 7.5-2.1 5-.3 8.8-2 5 0 7.4-2.1 5-.4 8.8-2.3 5 0 7.5-2.6 5-.4 8.7-2.8 5 0 7.6-3 4.9-.7 8.8-3.3 5-.2 7.5-3.5 5-1 8.8-3.6 5-.6 7.4-4.2 5-3.1 7.6-1 1.2-6.3 5-6.3 7.5-6.3 5-9 8.7-6.8 5-8.9 7.6-19.8 13.7-14.2 8.7-13.5 8.8-3.3 2.5-7 6.3-8.4 4.9-.2 1.3-267.7 0-.6-1.2-7.8-5-7.5-7.6-8.2-6.2-7-7.5-8-6.3-7-7.4-6-5-3.8-7.6-5.3-5-.6-1.2-1.8-7.5-4-5-.1-7.5-1.8-3.8-.4-2.4-.7-23.8 .6-22.5 .6-5 .1-8.7 .8-5 0-7.6 .7-5 .2-8.7 .7-5 0-7.5 .8-5 .1-8.8 .9-5 0-7.4 1-5 .2-8.8 1.2-5 0-7.5 1.3-5 .2-8.7 1.5-5 0-7.6 1.7-5 .3-8.7 1.7-5 0-7.5 1.8-5 .3-8.8 1.8-5 0-7.4 2-5 .3-8.8 2-5 0-7.5 1.8-5 .3-8.7 1.6-5 0-7.5 1.5-5.1 .2-8.7 1.3-5 0-7.5 1.3-5 .2-8.8 1.3-5 0-7.4 1.2-5 .3-8.8 1.2-5 0-7.5 1.3-5 .2-8.7 1.4-5 0-7.6z"/>
<path fill="#ff7000" d="M223.8,14l.2-1 451.4 0 0 47.5-.5 27.5-.5 5 0 7.5-.8 6.3 0 7.4-.8 5 0 7.6-.9 5-.2 8.7-1.1 5 0 7.5-1.2 5-.3 8.8-1.4 5 0 7.4-1.5 5-.3 8.8-1.8 5 0 7.5-2 5-.4 8.7-2.2 5 0 7.6-2.2 5-.4 8.7-2.1 5 0 7.5-2.2 5-.4 8.8-2.1 5 0 7.4-2.3 5-.4 8.8-2.4 5 0 7.5-2.5 5-.5 8.7-2.6 5 0 7.6-2.8 5-.6 8.7-3 5-.1 7.5-3.3 5-.9 8.8-3.6 5-.7 7.4-4 5-1.8 5-1.3 2.6-1.1 1.2-6.8 5-6.8 7.5-6.7 5-7.8 7.5-8.5 6.2-8.7 7.6-7.3 5-9.7 7.4-9.4 6.3-9.8 7.5-7.4 5-10.8 8.8-8.7 5-.4 1.2-231 0-26.4-13.2-11.6-6.8-16.5-13.8-7.9-7.4-6.3-5-4.7-7.6-5.4-5-.8-1.2-2.5-7.5-4.6-5-.5-7.5-2.7-5-.2-7.5-1.1-6.3 0-7.4-.5-2.5 .6-23.8 .7-5 .1-8.7 1-5 0-7.6 1-5 .2-8.7 1-5 0-7.5 .9-5 .2-8.8 1-5 0-7.4 1.1-5.1 .2-8.7 1.1-5 0-7.5 1.3-5 .3-8.7 1.5-5 0-7.6 1.6-5 .3-8.7 1.7-5 0-7.5 1.7-5 .3-8.8 1.8-5 0-7.4 1.9-5 .3-8.8 2-5 0-7.5 1.7-5 .4-8.7 1.5-5 0-7.6 1.4-5 .3-8.7 1.3-5 0-7.5 1.3-5 .3-8.8 1.3-5 0-7.4 1.4-5 .2-8.8 1.4-5 0-7.5 1.3-5 .2-8.7 1.2-5 0-7.6z"/>
<path fill="#ff6000" d="M232.5,13l431.3 0 .4 48.8-.8 38.7-.7 5-.1 8.7-.7 5 0 7.6-1 6.2 0 7.5-1.1 5 0 7.5-1.3 5-.2 8.8-1.4 5 0 7.4-1.6 5-.3 8.8-1.8 5 0 7.5-2.3 6.3-.2 7.4-2.1 5 0 7.6-2.2 5-.3 8.7-2.3 5 0 7.5-2.4 5-.5 8.8-2.5 5 0 7.4-2.5 5-.5 8.8-2.5 5 0 7.5-2.6 5-.5 8.7-2.4 5 0 7.6-2.3 5-.4 8.7-2.5 5 0 7.5-2.9 5-.8 8.8-3.6 5-.8 7.4-4.5 5-2.5 5-1.9 2.6-8.5 6.2-7.4 7.5-6.7 5-9.3 8.7-6.8 5-7.5 7.6-6.7 5-9.7 8.7-7.1 5-9.4 7.5-9.5 6.2-10.2 7.6-9.4 5-1.3 1.2-179.8 0-4.7-1-15-4.2-11.2-4.1-31.2-12.4-8.6-4.5-9.3-6.3-10.3-8.7-7-5-3.4-3.8-2.6-3.8-5.5-5-.9-1.2-3-7.5-5.1-5-.9-7.5-3.2-5-.2-7.5-1.2-6.3 0-7.4-.6-5-.2-11.3 .1-10 .9-6.3 .1-7.4 1.3-5 0-7.6 1.4-5 .3-8.7 1.4-5 0-7.5 1.4-5 .3-8.8 1.3-5 0-7.4 1.2-5 .1-7.6 1.3-6.2 0-7.5 1.2-5 .3-8.7 1.3-5 0-7.6 1.4-5 .3-8.7 1.5-5 0-7.5 1.5-5 .3-8.8 1.6-5 0-7.4 1.7-5 .4-8.8 1.7-5 0-7.5 1.7-5 .3-8.7 1.5-5 0-7.6 1.4-5 .3-8.7 1.4-5 0-7.5 1.3-5 .3-8.8 1.4-5 0-7.4 1.5-5 .3-8.8 1.4-5 0-7.5 1.4-5 .1-7.5 1.5-6.2 0-7.6 .3-1.2z"/>
<path fill="#ff4000" d="M241.2,13l410.2 0 .6 48.8-.8 38.7-.5 5-.1 8.7-.7 5 0 7.6-.8 6.2-.1 7.5-1 5 0 7.5-1.3 6.2-.1 7.6-1.4 5 0 7.4-1.5 5-.3 8.8-1.8 5 0 7.5-2.1 6.3-.2 7.5-2.2 4.9 0 7.6-2.2 5-.2 1.2-.2 7.5-2.4 5 0 7.5-2.6 5-.5 8.8-2.8 5 0 7.4-2.8 5-.5 8.8-2.8 5-.1 7.5-2.7 5-.2 7.5-.2 1.2-2.3 5 0 7.6-1.8 5-.3 8.7-1.5 5 0 7.5-2.6 5-.7 7.5-.4 1.3-4.6 5-1.9 7.4-5.2 5-2.8 6.3-1.7 2.5-6.3 5-8 7.5-8.7 6.3-6.9 7.4-6 5-6 7.6-6.2 5-8.1 7.4-19.3 13.8-15.6 9.1-8.7 4.7-12.1 5-2.2 1.2-108 0-19-4-33.8-6.1-17.4-4.3-16.3-5.2-13.7-6.3-13.8-5-7.5-4.1-16.3-11.4-14.8-12.4-1.8-2.4-3.1-6.3-5.1-5-1.3-7.5-3.6-5-.3-7.5-1.6-6.3 0-7.4-.9-6.3 0-20 1.1-6.3 .1-7.4 1.7-5 0-7.6 2-5 .4-8.7 2.1-5 0-7.5 2.1-5 .4-8.8 1.8-5 0-7.4 1.5-5 .2-8.8 1.2-5 0-7.5 1.1-5 .1-7.5 1.1-6.2 0-7.6 1.1-5 .2-8.7 1-5 0-7.5 1.2-5 .2-8.8 1.4-5 0-7.4 1.5-5 .3-8.8 1.5-5 0-7.5 1.6-5 .3-8.7 1.4-5.1 0-7.5 1.4-5 .2-8.7 1.4-5 0-7.5 1.5-5 .3-8.8 1.5-5 0-7.4 1.7-5 .3-8.8 1.6-5 0-7.5 1.5-5 .3-8.7 1.8-5 0-7.6 .4-1.2z"/>
<path fill="#ff3000" d="M251.2,13l387.7 0-.2 61.2-1.2 40-.5 5 0 7.6-.8 6.2 0 7.5-.9 5 0 7.5-1 5-.2 8.8-1.2 5 0 7.4-1.6 6.3-.1 7.5-1.7 5 0 7.5-1.9 5-.4 8.7-2.2 5 0 7.6-2.3 5-.4 8.7-2.5 5 0 7.5-2.6 5-.6 8.8-2.8 5-.1 7.4-3 5-.6 8.8-3 5 0 7.5-3 5-.6 8.7-2.6 5 0 7.6-1.4 3.7-.4 2.5-.1 7.5-.9 5 0 7.5-.8 2.5-2.5 3.7-1.6 6.3-1 1.3-3.1 2.4-2.1 2.6-1.1 7.4-3.6 5-1.8 5-1.4 2.6-1.2 1.2-7.8 5-3.9 3.7-3.2 3.8-5.8 5-5.8 8.8-5.4 4.9-5.8 7.6-6.6 5-8.8 7.4-21.1 13.8-8.7 4.5-16.2 7-10 3.5-13.8 3.9-3.8 .6-11.3 .5-34.6 0-9.1-.9-17.4-2.8-10-2.3-13.8-5.4-5-1.4-38.8-7.5-13.7-3.4-10-3.1-3.7-1.5-7.6-4.4-6.2-3-11.2-3.2-6.3-3-7-4.3-10.1-7.6-7.5-5-3.7-3.7-3.5-5-5.1-5-2-7.5-3.9-5-.9-8.8-1.5-2.4-1-2.6 0-7.4-.6-2.6-.4-3.7 .3-20 1.5-6.3 .2-7.4 2.3-5 0-7.6 2.7-5 .6-8.7 3-5 .1-7.5 3-5 .3-7.5 .2-1.3 2.4-5 0-7.4 1.8-5 .1-7.6 1.3-6.2 0-7.5 .8-5 1.2-35 .6-5 0-7.5 .7-5 .2-8.8 .9-5 0-7.4 1.2-5 .3-8.8 1.3-5 0-7.5 1.4-5 .2-8.7 1.4-5 0-7.6 1.4-5 .2-8.7 1.5-5 0-7.5 1.5-5 .3-8.8 1.8-5 0-7.4 1.8-5 .3-8.8 1.8-5 0-7.5 1.9-5 .3-8.7 1.9-5 0-7.6 .5-1.2z"/>
<path fill="#ff2000" d="M261.2,13l363.6 0 .3 22.5-.4 38.7-1.5 52.6-.5 5-.1 8.7-.7 5 0 7.5-.9 6.2-.1 7.6-1 5 0 7.4-1.4 6.3-.1 7.5-1.5 5 0 7.5-1.9 5-.4 8.7-2.2 5 0 7.6-2.3 5-.4 8.7-2.4 5 0 7.5-2.5 5-.5 8.8-2.8 5 0 7.4-2.9 5-.6 8.8-3.1 5-.1 7.5-3.4 5-.4 1.3-.5 7.4-3.3 5-.1 7.6-2.5 5-.4 8.7-1.8 5 0 7.5-2.7 5-.7 7.5-.4 1.3-4.4 5-1.4 7.4-5.1 5-3.2 7.6-.9 1.2-5.5 5-4.7 7.5-6.1 5-5.8 7.5-7.6 6.2-6.8 7.6-13.3 10.3-6.3 4.3-10 6-7.5 3.7-15 5.8-10 3.1-10 2.3-17.5 2.3-10 1-15 .5-32.5-1.3-8.4-1.8-14.1-8.5-7.5-3.2-28.8-5.8-22.4-6-11.3-3.6-33.7-15.1-6.3-3.1-5.6-3.5-4.4-3.7-4.8-5-6.3-5-4.3-7.5-5.2-5-.5-1.2-.9-7.6-2.7-5 0-7.4-.9-5 0-8.8 1.1-5 0-7.5 2.4-6.3 .2-7.4 3-5 .1-7.6 3.4-5 1-8.7 3.8-5 .4-7.5 3.8-5 .3-1.2 .2-6.3 .3-1.3 2.6-5 0-7.4 1.9-5 .1-7.6 1.2-6.2 .4-12.5 .3-61.3 .6-5 0-7.4 1-6.3 .1-7.5 1.1-5 0-7.5 1.2-5 .2-7.5 1.3-6.2 0-7.6 1.4-5 .2-8.7 1.5-5 0-7.5 1.7-5 .4-8.8 1.8-5 0-7.4 2.1-5 .4-8.8 2.1-5 0-7.5 2.2-5 .4-8.7 2.5-5 0-7.6 .6-1.2z"/>
<path fill="#ff0000" d="M272.5,13.6l.3-.6 337.9 0-.4 61.2-1.5 66.3-.6 5 0 7.5-.8 6.2-.1 7.6-1 5 0 7.4-1.1 5-.2 8.8-1.4 5 0 7.5-1.9 5-.4 8.8-2.2 4.9 0 7.6-2.3 5-.4 8.7-2.3 5 0 7.5-2.1 5-.4 8.8-2.3 5 0 7.4-2.5 5-.3 1.3-.3 7.5-3.1 5-.3 7.5-3.9 5-.4 1.3-.4 6.2-.4 1.2-3.9 5-.1 7.6-2.8 5-.4 8.7-2 5 0 7.5-2.8 5-.9 7.5-.5 1.3-5 5-1.5 7.4-4.1 5-2 6.3-1.3 2.5-6 5-5 7.5-6 5-6.5 8.7-6.1 5-3.5 3.8-4.2 3.8-19.7 12.4-13.4 7.1-7.5 3.5-8.7 3-8.8 2.2-8.8 1.7-10 1-16.2 .9-10-.1-11.2-1.6-11.3-2.1-8.7-2.3-21.3-8.8-6.3-2.1-33.7-7.9-25-7-7.5-2.8-13.8-6.5-17.4-6-6.3-3-10.7-7.9-3.1-3.7-2.3-3.8-5.8-5-1.2-2.5-1.6-6.3-2.2-2.4-1.6-2.6 0-7.4-.9-2.6 .7-3.7 0-6.3 .3-1.2 3.2-5 .1-7.5 3-5 .6-8.7 3.4-5 .2-7.6 3.7-5 .4-1.2 .5-6.2 .4-1.3 4.5-5 .8-7.5 4.1-5 .4-1.2 .2-6.3 2.5-6.3 0-7.4 1.7-5 .1-7.6 1-6.2 0-21.2-.8-31.3-.1-21.3 .3-12.4 .8-6.3 .1-7.5 1-5 0-7.5 1.1-5 .2-8.7 1.2-5 0-7.6 1.5-6.2 .1-7.5 1.6-5 0-7.5 2-6.2 .2-7.6 2-5 0-7.4 2.3-5 .4-8.8 2.4-5 0-7.5 2.6-5 .3-1.3 .2-7.4 2.9-5 0-7.6z"/>
<path fill="#ef0000" d="M285,13.4l.2-.4 310.5 0-.9 127.5-.5 5 0 7.5-.9 6.2-.1 7.6-1 5 0 7.4-1.1 5-.2 8.8-1.4 5 0 7.5-1.8 5-.4 8.7-2.2 5 0 7.5-2.4 5.1-.4 8.7-2.5 5 0 7.5-2.8 5-.3 1.2-.3 7.6-3.1 5-.1 7.4-3.2 5-.8 8.8-3.6 5-.4 7.5-3.8 5-.9 8.7-3.1 5-.1 7.6-2.1 5-.3 8.7-1.7 5 0 7.5-3 6.2-.3 6.3-.5 1.3-4.6 5-1.8 7.4-5.4 5-2.9 7.6-.9 1.2-5.2 5-3.6 7.5-5.7 5-5.9 7.5-14.5 11.2-6.5 4.3-12.5 7.3-7.5 3.8-11.3 4.2-8.7 2.7-6.3 1.4-6.2 .9-23.8 1.3-6.2-.3-6.2-.9-20-4.6-8.8-2.8-8.6-3.5-12.7-8.4-3.7-2-5-1.2-20.2-3.4-16.5-3.8-16.3-5-17-6.2-15-3.8-6.2-2.1-6.3-3.1-5-3.8-6.7-7.2-2.4-3.8-2.4-5-4.1-3.7-.9-1.3-.2-7.4-.6-2.6 .6-1.2 1.5-1.2 .6-1.3 .5-6.3 5.1-6.2 .4-7.5 3.2-5 .9-8.7 3.2-5 .4-7.6 3.6-5 1.3-7.4 .5-1.3 4.7-5 1.3-7.5 4.2-5 .4-1.2 .2-6.3 2-6.3 0-7.4 1.1-5 0-7.6 .6-6.2-.5-73.8 .4-12.4 .7-6.3 .1-7.5 1-5 0-7.5 1.1-5 .2-8.7 1.2-5 0-7.6 1.5-6.2 .1-7.5 1.6-5 0-7.5 2.1-6.2 .1-7.6 2.1-5 0-7.4 2.3-5 .5-8.8 2.5-5 0-7.5 2.6-5 .6-8.7 2.9-5 0-7.5z"/>
<path fill="#df0000" d="M298.8,14.2l.6-1.2 279.7 0 1.1 27.5 .6 26.3 .2 72.4-.5 6.3 0 7.5-.9 6.2-.1 7.6-1.1 5 0 7.4-1.1 5-.2 8.8-1.4 5 0 7.5-1.8 5-.4 8.7-2.2 5 0 7.6-2.4 5-.3 1.2-.2 7.5-2.8 5-.2 7.5-3.5 5-1.1 8.8-3.9 5-.5 7.4-3.7 5-1.1 8.8-3.7 5-.5 7.5-3.6 5-.9 8.7-3 5 0 7.6-1.9 5-.3 8.7-1.6 5 0 7.5-2.8 6.2-.3 6.3-.5 1.3-4.5 5-1.6 7.4-4.8 5-2.5 7.6-.8 1.2-5.3 5-4.1 7.5-6 5-4.4 5-4 3.7-13.1 8.8-6.8 3.8-7.1 3.1-11.3 4.5-8.7 2.8-13.7 2.4-17.6 1.3-6.2-.3-6.2-1.2-7.6-2.2-11.5-4.2-5.4-2.5-8.1-4.5-13.6-10.5-1.5-1.3-1.9-2.4-2.5-6.3-2.4-3.7-.4-1.3-.7-11.3-1.6-5-1.6-1.2-3.8-.3-5 1.2-3 1.6-5.7 4.7-2.5 1.5-7.5 2.1-6.3 .8-16.2 .9-30 .3-5-.8-5-1.6-3.8-1.9-5.4-3.5-3.3-3.2-3.6-5.6-3.9-3.4-1.1-1.6-.3-10 1.5-2.4 .4-1.3 .2-6.3 .4-1.2 4-5 .9-7.5 4-5 1.6-7.5 .6-1.2 4.7-5 1.9-7.6 5.1-5 4.3-8.7 6.3-5 1.3-3.7 .7-3.8 3.1-3.8 .9-2.4 0-6.3 1.9-6.3 .3-10-.3-11.2-.8-5-.3-12.5-.3-50 .2-23.7 .5-5 .2-8.8 .7-5 0-7.5 .9-6.3 .1-7.4 1-5 0-7.6 1.2-5 .2-8.7 1.6-5 0-7.5 2-6.2 .2-7.6 2.1-5 0-7.4 2.3-5 .5-8.8 2.6-5 0-7.5 2.8-5 .6-8.7 3-5 0-7.6z"/>
<path fill="#cf0000" d="M313.8,14l.5-1 249.1 0 .3 1.2 0 7.6 1.4 5 .2 8.7 1.1 5 0 7.5 .8 5 .1 7.5 .7 6.3 .7 26.2 .3 37.5-.7 22.5-1.1 6.2-.1 7.6-1.2 5 0 7.4-1.5 6.3-.1 7.5-1.5 5 0 7.5-2 5-.4 8.7-2.5 5 0 7.6-2.8 5-.2 1.2-.4 7.5-3.2 5-.3 7.5-4 5-.5 1.2-.7 6.3-.5 1.3-4.4 5-.9 7.4-4.2 5-.5 1.3-.8 6.3-.5 1.2-4.6 5-.9 7.5-4.1 5-.4 1.3-.2 6.2-2.7 6.2 0 7.6-1.5 5-.2 8.7-1.4 5 0 7.5-2.7 6.2-.3 6.3-.4 1.3-4.7 5-1.7 7.4-5.2 5-3.2 7.6-.9 1.2-5.7 5-5.4 7.5-6.5 5-5.5 5-5.1 3.7-14.5 7.9-10 3.9-6.2 1.6-8.8 1.3-13.7 1.2-5-.2-5-.8-6.3-1.7-4.9-1.9-6.4-3.7-8.3-7.6-2.2-3.7-1.7-5-2.4-2.5-1.5-2.5-.2-7.5-1.2-5-.2-8.8-.6-2.4-1.2-2.6-.4-7.4-4.5-5-1.7-3-1.8-2-3.6-2.6-5.9-2.4-5-1.3-3.7-.4-17.6-.1-8.7 .6-7.5 1.9-3.9 1.7-3.6 2.7-3.9 4.9-5.4 5-2.9 5-2 2.4-1.6 1.3-8.8 6.3-3 1.2-4.9 1.2-6.2 .6-3.8-.3-2.5-.7-5-2.6-8.1-7-1.4-3.7-.3-3.7-1.4-2.6 .6-3.7 .3-6.3 .4-1.2 5.4-5 3.2-4.7 5-4.2 7.6-4.1 6.2-1.7 11.2-2 5-1.7 5.9-5.4 1.1-2.4 .5-12.6 .1-36.2-.2-11.2-.7-6.3-.1-7.5-.6-5-1.2-63.8 .3-22.4 .5-6.3 .1-7.5 .7-5 0-7.5 .9-5 .1-8.7 1-5 0-7.6 1.3-6.2 .1-7.5 1.6-5 0-7.5 1.8-5 .3-8.8 2.1-5 0-7.4 2.4-5 .4-8.8 2.6-5 0-7.5 2.8-5 .6-8.7 3-5 0-7.5z"/>
<path fill="#af0000" d="M328.7,14l.6-1 218.4 0 .3 8.8 1.1 5 .2 8.7 .9 5 0 7.5 .7 5 .1 8.8 .6 5 .7 26.2 .2 35-.4 25-.6 5-.2 8.8-.8 5 0 7.4-1 5-.2 8.8-1.4 5 0 7.5-2.1 5-.5 8.7-2.9 5 0 7.6-3.3 4.9-.8 8.8-3.5 5-.7 7.5-4.4 5-.5 1.2-1.1 6.3-.6 1.3-4.6 5-1.3 7.4-4.6 5-2.2 8.8-4.6 5-.8 7.5-4 5-1 8.7-3.4 5 0 7.6-2.1 5-.2 8.7-1.1 5 0 7.5-2.2 6.2-.1 6.3-.4 1.3-4.3 5-1.8 7.4-5.1 5-3.4 7.5-.9 1.3-5.7 5-2.6 3.8-3.3 3.7-11.6 8.6-5 3.1-5 2.2-7.4 2.6-6.3 1.7-6.3 1-3.7 .1-5-.5-7.5-2-6.2-3-3.8-2.5-2.4-2.6-2.4-3.7-4.7-5-.8-7.5-3.3-5-.3-1.2-.3-7.6-3-5-.1-7.4-3.2-5-.9-7.6-1.1-2-4.4-4.2-2-2.5-3.6-2.7-7.5-3.7-21.2-8.8-5-2.7-8.8-5.8-2.5-3.8-1-3.8-3.8-5-.3-7.4-1.5-6.3 0-7.5-.8-5-.1-8.8-1-5 0-7.4-1.7-5-.3-8.8-1.6-5 0-7.5-.8-5-1.5-40-.1-21.3 .6-26.2 .5-5 0-7.5 .5-5 .1-8.7 .7-5 0-7.6 1-5 .3-8.7 1.3-5 0-7.5 1.7-5 .4-8.8 2-5 0-7.4 2.3-5 .2-1.3 .2-7.5 2.5-5 .1-7.5 2.7-5 .6-8.7 2.9-5.1 0-7.5z"/>
<path fill="#9f0000" d="M346.2,13l185 0 .3 8.8 .9 5 .1 8.7 .8 5 0 7.5 .5 5 .5 13.8 .7 52.4-.5 33.8-.6 5-.2 8.8-.9 5 0 7.4-1.2 6.3-.1 7.5-1.8 5 0 7.5-2.3 5-.2 1.3-.3 7.4-2.6 5 0 7.6-3.2 5-1 8.7-4.1 5-1.3 7.5-5.4 5-3.7 8.8-5.2 5-2.5 7.4-5.3 5-.8 1.3-2.2 7.5-4.7 5-1.1 7.5-4.3 5-.4 1.3-.3 6.2-.3 1.2-2.7 5-.1 7.6-1.7 5-.1 25-.8 2.4-.8 6.3-.8 1.3-3.5 2.4-2.7 2.6-2.7 7.4-5.4 5-3.1 6.3-1.8 2.5-7.9 7.5-5.1 3.7-5.6 3.1-3.7 1.1-5 .4-7.5-.3-3.7-.8-4.7-2.2-2.9-2.5-1.6-2.5-.9-2.5-4.1-5-.5-1.2-.9-7.6-3.4-5-.2-7.4-3.3-5-.3-1.3-.4-6.3-.4-1.2-4.2-5-.8-3.8-1.2-3.7-5.7-5-7.1-7.3-13.8-9-12.6-11.2-1.3-2.5-1.8-5-3.8-5-.2-7.5-2.5-5-.2-7.5-1.9-6.3 0-7.4-1.4-5-.1-7.6-1.2-6.2 0-7.5-1.1-5-.2-8.7-1.1-5 0-7.6-1-6.2-1-25 .5-35 .5-5 0-7.5 .6-5 .1-8.7 .8-5 0-7.6 1.6-6.2 0-6.2 .2-1.3 2-5 0-7.5 2.2-5 .4-8.8 2-5 0-7.4 1.9-5 .3-8.8 1.9-5 0-7.5 1.9-5 .2-7.5 2.1-6.2 0-7.6 .4-1.2z"/>
<path fill="#8f0000" d="M367.5,13l142.8 0 .3 1.2 0 7.6 1 5 .1 7.4 1 6.3 0 7.5 .7 5 .1 8.8 .5 5 .9 38.7 .1 33.7-.4 13.8-.8 6.2 0 7.6-.9 5 0 7.4-1.5 6.3-.2 7.5-2.7 5 0 7.5-3.1 5-.7 8.7-3.4 5-.4 7.6-3.8 5-1.1 7.4-.5 1.3-4.4 5-1.9 7.5-5.3 5-3.4 7.5-.9 1.3-5.6 5-3.9 7.4-5.9 5-5.1 8.8-5.7 5-3.8 7.5-6 5-5.2 7.5-4 3.8-2 2.4-.8 7.6-.6 2.4 1.1 3.8 .2 6.2 .4 1.3 3.6 5 .1 7.5 1 2.5-.1 1.3-.9 2.4-.7 5-1.4 2.6-5.5 3.5-2.6 .9-2.4 .3-3.8-1.1-6.2-3.6-1.4-1.3-1-2.5-1-5-1.6-2.5-.8-2.5-.1-7.5-1.8-5-.9-6.3-.9-2.4-4.5-5-2-3.8-1.9-2.5-1.3-1.3-9.2-6.2-2.9-3.1-2.9-4.4-5.2-5-1.7-7.5-4-5-.4-1.2-.8-7.6-3.3-5-.2-7.4-3.4-5-.4-7.6-.3-1.2-3.2-5-.1-7.5-2.9-5-.6-8.7-3-5 0-7.6-2.6-5.3-.1-7.1-1.7-6.3 0-7.5-1.1-6.2-.6-21.3 .6-5 0-6.3 .1-1.2 1.9-5 0-7.5 2.2-5 .4-8.7 1.8-5 0-7.6 1.8-5 .3-8.7 1.8-5 0-7.5 1.7-5 .4-8.8 1.7-4.9 0-7.5 1.8-5 .4-8.8 1.8-5 0-7.5 1.8-5 .2-7.5 1.9-6.2 0-7.6 .5-1.2z"/>
<path fill="#800000" d="M400,13l82.8 0 .3 1.2 0 7.6 .9 5 .2 8.7 1 5 0 7.5 .9 5 .1 8.8 .8 5 0 7.4 .8 5 .2 8.8 .8 5 0 7.5 .6 5 .5 13.7-.1 33.8-.8 26.2-2.4 6.3-.1 6.3-.3 1.2-3.7 5-.6 7.5-4.3 5-1.8 7.5-.6 1.2-5.2 5-2.5 7.6-5.1 5-3.1 6.2-1.8 2.5-10 8.2-6.3 3.5-10 3.6-6.2 1.4-3.8 .3-3.7-.2-3.7-1-10-4.2-6.3-4.1-7.4-7.5-.6-1.3-1.6-7.4-3.9-5-.7-7.6-4.4-5-.4-1.2-.6-6.2-.4-1.3-3.6-5-.1-7.5-2.5-5-.2-7.5-1.5-6.3-.1-8.7 1.1-5 0-6.3 .3-1.2 3.3-5 .3-7.5 3.6-5 .7-8.7 2.6-5 0-7.6 2.1-5 .3-8.7 1.9-5 0-7.5 1.9-5 .3-8.8 2-5 0-7.4 2.1-5 .4-8.8 2-5 0-7.5 2.2-5 .3-8.7 2.1-5 0-7.6 .5-1.2z"/>
</g>

</g>
<g shape-rendering="crispEdges">
<rect x="885" y="481.57" width="45.5" height="7.83" fill="#00008f"/>
<rect x="885" y="474.14" width="45.5" height="7.83" fill="#00009f"/>
<rect x="885" y="466.71" width="45.5" height="7.83" fill="#0000af"/>
<rect x="885" y="459.28" width="45.5" height="7.83" fill="#0000bf"/>
<rect x="885" y="451.85" width="45.5" height="7.83" fill="#0000cf"/>
<rect x="885" y="444.42" width="45.5" height="7.83" fill="#0000df"/>
<rect x="885" y="436.99" width="45.5" height="7.83" fill="#0000ef"/>
<rect x="885" y="429.56" width="45.5" height="7.83" fill="#0000ff"/>
<rect x="885" y="422.13" width="45.5" height="7.83" fill="#0010ff"/>
<rect x="885" y="414.70" width="45.5" height="7.83" fill="#0020ff"/>
<rect x="885" y="407.27" width="45.5" height="7.83" fill="#0030ff"/>
<rect x="885" y="399.84" width="45.5" height="7.83" fill="#0040ff"/>
<rect x="885" y="392.41" width="45.5" height="7.83" fill="#0050ff"/>
<rect x="885" y="384.98" width="45.5" height="7.83" fill="#0060ff"/>
<rect x="885" y="377.55" width="45.5" height="7.83" fill="#0070ff"/>
<rect x="885" y="370.12" width="45.5" height="7.83" fill="#0080ff"/>
<rect x="885" y="362.70" width="45.5" height="7.83" fill="#008fff"/>
<rect x="885" y="355.27" width="45.5" height="7.83" fill="#009fff"/>
<rect x="885" y="347.84" width="45.5" height="7.83" fill="#00afff"/>
<rect x="885" y="340.41" width="45.5" height="7.83" fill="#00bfff"/>
<rect x="885" y="332.98" width="45.5" height="7.83" fill="#00cfff"/>
<rect x="885" y="325.55" width="45.5" height="7.83" fill="#00dfff"/>
<rect x="885" y="318.12" width="45.5" height="7.83" fill="#00efff"/>
<rect x="885" y="310.69" width="45.5" height="7.83" fill="#00ffff"/>
<rect x="885" y="303.26" width="45.5" height="7.83" fill="#10ffef"/>
<rect x="885" y="295.83" width="45.5" height="7.83" fill="#20ffdf"/>
<rect x="885" y="288.40" width="45.5" height="7.83" fill="#30ffcf"/>
<rect x="885" y="280.97" width="45.5" height="7.83" fill="#40ffbf"/>
<rect x="885" y="273.54" width="45.5" height="7.83" fill="#50ffaf"/>
<rect x="885" y="266.11" width="45.5" height="7.83" fill="#60ff9f"/>
<rect x="885" y="258.68" width="45.5" height="7.83" fill="#70ff8f"/>
<rect x="885" y="251.25" width="45.5" height="7.83" fill="#80ff80"/>
<rect x="885" y="243.82" width="45.5" height="7.83" fill="#8fff70"/>
<rect x="885" y="236.39" width="45.5" height="7.83" fill="#9fff60"/>
<rect x="885" y="228.96" width="45.5" height="7.83" fill="#afff50"/>
<rect x="885" y="221.53" width="45.5" height="7.83" fill="#bfff40"/>
<rect x="885" y="214.10" width="45.5" height="7.83" fill="#cfff30"/>
<rect x="885" y="206.67" width="45.5" height="7.83" fill="#dfff20"/>
<rect x="885" y="199.24" width="45.5" height="7.83" fill="#efff10"/>
<rect x="885" y="191.81" width="45.5" height="7.83" fill="#ffff00"/>
<rect x="885" y="184.38" width="45.5" height="7.83" fill="#ffef00"/>
<rect x="885" y="176.95" width="45.5" height="7.83" fill="#ffdf00"/>
<rect x="885" y="169.52" width="45.5" height="7.83" fill="#ffcf00"/>
<rect x="885" y="162.09" width="45.5" height="7.83" fill="#ffbf00"/>
<rect x="885" y="154.66" width="45.5" height="7.83" fill="#ffaf00"/>
<rect x="885" y="147.23" width="45.5" height="7.83" fill="#ff9f00"/>
<rect x="885" y="139.80" width="45.5" height="7.83" fill="#ff8f00"/>
<rect x="885" y="132.38" width="45.5" height="7.83" fill="#ff8000"/>
<rect x="885" y="124.95" width="45.5" height="7.83" fill="#ff7000"/>
<rect x="885" y="117.52" width="45.5" height="7.83" fill="#ff6000"/>
<rect x="885" y="110.09" width="45.5" height="7.83" fill="#ff5000"/>
<rect x="885" y="102.66" width="45.5" height="7.83" fill="#ff4000"/>
<rect x="885" y="95.23" width="45.5" height="7.83" fill="#ff3000"/>
<rect x="885" y="87.80" width="45.5" height="7.83" fill="#ff2000"/>
<rect x="885" y="80.37" width="45.5" height="7.83" fill="#ff1000"/>
<rect x="885" y="72.94" width="45.5" height="7.83" fill="#ff0000"/>
<rect x="885" y="65.51" width="45.5" height="7.83" fill="#ef0000"/>
<rect x="885" y="58.08" width="45.5" height="7.83" fill="#df0000"/>
<rect x="885" y="50.65" width="45.5" height="7.83" fill="#cf0000"/>
<rect x="885" y="43.22" width="45.5" height="7.83" fill="#bf0000"/>
<rect x="885" y="35.79" width="45.5" height="7.83" fill="#af0000"/>
<rect x="885" y="28.36" width="45.5" height="7.83" fill="#9f0000"/>
<rect x="885" y="20.93" width="45.5" height="7.83" fill="#8f0000"/>
<rect x="885" y="13.50" width="45.5" height="7.83" fill="#800000"/>
</g>
<g stroke="#222" stroke-width="0.8" fill="none">
<path d="M190.00 488 v-7 M190.00 13 v7"/>
<path d="M299.00 488 v-7 M299.00 13 v7"/>
<path d="M408.00 488 v-7 M408.00 13 v7"/>
<path d="M517.00 488 v-7 M517.00 13 v7"/>
<path d="M626.00 488 v-7 M626.00 13 v7"/>
<path d="M735.00 488 v-7 M735.00 13 v7"/>
<path d="M844.00 488 v-7 M844.00 13 v7"/>
<path d="M85 438.00 h7 M850.5 438.00 h-7"/>
<path d="M85 385.50 h7 M850.5 385.50 h-7"/>
<path d="M85 333.00 h7 M850.5 333.00 h-7"/>
<path d="M85 280.50 h7 M850.5 280.50 h-7"/>
<path d="M85 228.00 h7 M850.5 228.00 h-7"/>
<path d="M85 175.50 h7 M850.5 175.50 h-7"/>
<path d="M85 123.00 h7 M850.5 123.00 h-7"/>
<path d="M85 70.50 h7 M850.5 70.50 h-7"/>
<path d="M85 18.00 h7 M850.5 18.00 h-7"/>
<path d="M885 471.20 h3.5 M930.5 471.20 h-3.5"/>
<path d="M885 399.07 h3.5 M930.5 399.07 h-3.5"/>
<path d="M885 326.94 h3.5 M930.5 326.94 h-3.5"/>
<path d="M885 254.80 h3.5 M930.5 254.80 h-3.5"/>
<path d="M885 182.67 h3.5 M930.5 182.67 h-3.5"/>
<path d="M885 110.53 h3.5 M930.5 110.53 h-3.5"/>
<path d="M885 38.40 h3.5 M930.5 38.40 h-3.5"/>
<rect x="85.0" y="13.0" width="765.5" height="475.0" stroke="#444" stroke-width="0.5" stroke-opacity="0.7"/>
<rect x="885.0" y="13.5" width="45.5" height="475.5" stroke="#444" stroke-width="0.5"/>
</g>
<g class="t">
<text x="190.4" y="514.7" text-anchor="middle">80</text>
<text x="299.4" y="514.7" text-anchor="middle">160</text>
<text x="408.4" y="514.7" text-anchor="middle">240</text>
<text x="517.4" y="514.7" text-anchor="middle">320</text>
<text x="626.4" y="514.7" text-anchor="middle">400</text>
<text x="735.4" y="514.7" text-anchor="middle">480</text>
<text x="844.4" y="514.7" text-anchor="middle">560</text>
<text x="79" y="446.0" text-anchor="end">60</text>
<text x="79" y="393.5" text-anchor="end">120</text>
<text x="79" y="341.0" text-anchor="end">180</text>
<text x="79" y="288.5" text-anchor="end">240</text>
<text x="79" y="236.0" text-anchor="end">300</text>
<text x="79" y="183.5" text-anchor="end">360</text>
<text x="79" y="131.0" text-anchor="end">420</text>
<text x="79" y="78.5" text-anchor="end">480</text>
<text x="79" y="26.0" text-anchor="end">540</text>
<text x="935.3" y="479.1">-400</text>
<text x="935.3" y="407.0">-200</text>
<text x="936.3" y="334.8">0</text>
<text x="936.3" y="262.7">200</text>
<text x="936.3" y="190.6">400</text>
<text x="936.3" y="118.4">600</text>
<text x="936.3" y="46.3">800</text>
</g>
<text class="lab" x="482.5" y="542.3" text-anchor="middle">TED power output (MWh)</text>
<text class="lab" transform="translate(24.2,239.4) rotate(-90)" text-anchor="middle">Heat storage capacity (MWh)</text>
<text class="lab" transform="translate(990,268.5) rotate(90)" text-anchor="middle">Annual profit (10<tspan font-size="17" dy="-11">7</tspan><tspan dy="11"> Yuan)</tspan></text>
<text class="gk" x="182.2" y="127.4" font-size="33.2">β</text>
<text class="gk" x="181.9" y="392" font-size="34" font-style="italic" clip-path="url(#ac)">α</text>
<text class="gk" x="722.3" y="127.3" font-size="33.5" style="fill:#002060">γ</text>
<text class="sans" transform="translate(408.9,168) scale(0.955,1)" style="fill:#ffff00">A</text>
<text class="sans" transform="translate(255.4,389.8) scale(0.83,1)" style="fill:#92d050;stroke:#92d050;stroke-width:0.8px">B</text>
</svg>
</body></html>
